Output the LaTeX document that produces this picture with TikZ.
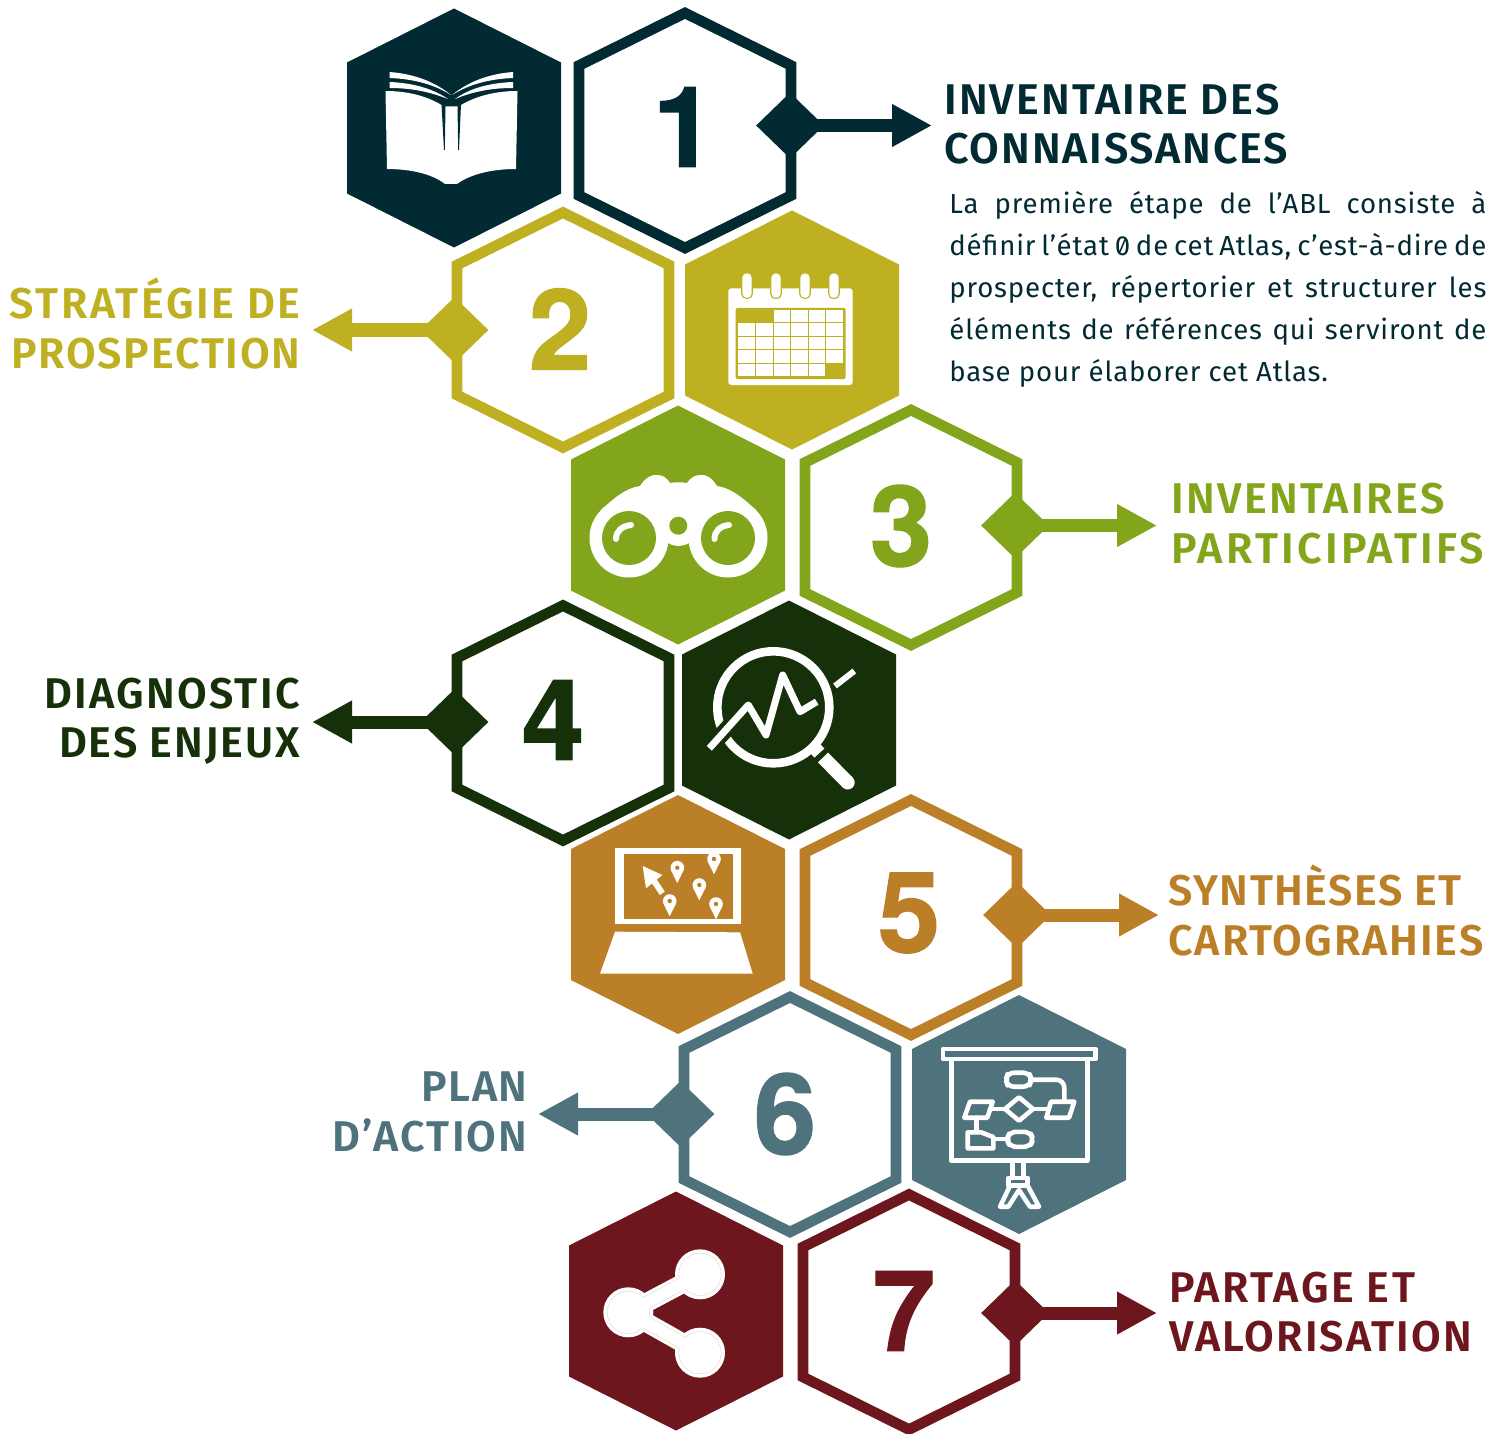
\documentclass[tikz,border=0pt]{standalone}
\usepackage{fontspec}
\usetikzlibrary{shapes.geometric,arrows.meta}
\setmainfont{Fira Sans}
\newfontfamily\titlefont{Fira Sans}[LetterSpace=3.5,UprightFont=*,BoldFont=* SemiBold]
\newfontfamily\bodyfont{Fira Sans}[LetterSpace=3,RawFeature={+ss01;+zero}]
\newfontfamily\digitfont{TeX Gyre Heros}[FakeBold=1.2]
\definecolor{cA}{HTML}{022A33}
\definecolor{cB}{HTML}{BFB022}
\definecolor{cC}{HTML}{82A51C}
\definecolor{cD}{HTML}{163009}
\definecolor{cE}{HTML}{BB7F27}
\definecolor{cF}{HTML}{4E737C}
\definecolor{cG}{HTML}{6E161E}
\newcommand\solidhex[3]{\fill[#3,shift={(#1,#2)}] (0,-119.5) -- (107,-65.5) -- (107,65.5) -- (0,119.5) -- (-107,65.5) -- (-107,-65.5) -- cycle;}
\newcommand\linehex[3]{\draw[#3,line width=5.3pt,miter limit=4,shift={(#1,#2)}] (0,-117.5) -- (106,-65) -- (106,65) -- (0,117.5) -- (-106,65) -- (-106,-65) -- cycle;}
\newcommand\bodyline[1]{\hbox to 268.5pt{#1}}
\newcommand\ls[2]{{\addfontfeature{LetterSpace=#1}#2}}
\newcommand\mappin[2]{\begin{scope}[shift={(#1,#2)}]
\fill[white] (0,0) circle[radius=6.8];
\fill[white] (0,15.3) -- (-6.3,2.5) -- (6.3,2.5) -- cycle;
\fill[cE] (0,0) circle[radius=2.2];
\end{scope}}
\tikzset{
  diam/.style={diamond,fill=#1,minimum width=34pt,minimum height=33pt,inner sep=0pt},
  conn/.style={draw=#1,line width=6.5pt,-{Triangle[length=20pt,width=20pt,fill=#1]}},
  digit/.style={inner sep=0pt,font=\digitfont\bfseries\fontsize{56}{56}\selectfont},
  title/.style={inner sep=0pt,font=\titlefont\bfseries\fontsize{21.5}{24.75}\selectfont},
  icon/.style={white,line width=2.3pt,line join=round,line cap=round},
}
\begin{document}
\begin{tikzpicture}[x=0.5pt,y=-0.5pt]
\fill[white] (0,0) rectangle (1502,1433);
\useasboundingbox (0,0) rectangle (1502,1433);
% hexagons
\solidhex{454}{128}{cA}   \linehex{685}{130.5}{cA}
\linehex{563}{330}{cB}    \solidhex{792}{330}{cB}
\solidhex{678}{525}{cC}   \linehex{911}{527.5}{cC}
\linehex{563}{723}{cD}    \solidhex{789}{720}{cD}
\solidhex{678}{914.5}{cE} \linehex{911}{917.5}{cE}
\linehex{790}{1114.5}{cF} \solidhex{1019}{1114.5}{cF}
\solidhex{676}{1311}{cG}  \linehex{909}{1312}{cG}
% digits
\node[digit,text=cA] (n1) at (684,127) {1};
\node[digit,text=cB] (n2) at (560,329) {2};
\node[digit,text=cC] (n3) at (901,526) {3};
\node[digit,text=cD] (n4) at (553,720) {4};
\node[digit,text=cE] (n5) at (909,913) {5};
\node[digit,text=cF] (n6) at (785,1114) {6};
\node[digit,text=cG] (n7) at (904,1311) {7};
% diamonds and connectors
\node[diam=cA] (d1) at (790,125.5) {};
\node[diam=cB] (d2) at (454.5,330) {};
\node[diam=cC] (d3) at (1015,525.5) {};
\node[diam=cD] (d4) at (454.5,722) {};
\node[diam=cE] (d5) at (1017,915) {};
\node[diam=cF] (d6) at (680.5,1114) {};
\node[diam=cG] (d7) at (1015,1313) {};
\coordinate (a1) at (932,125.5);
\coordinate (a2) at (312,330);
\coordinate (a3) at (1157,525.5);
\coordinate (a4) at (312,722);
\coordinate (a5) at (1159,915);
\coordinate (a6) at (538,1114);
\coordinate (a7) at (1157,1313);
\draw[conn=cA] (d1.center) -- (a1);
\draw[conn=cB] (d2.center) -- (a2);
\draw[conn=cC] (d3.center) -- (a3);
\draw[conn=cD] (d4.center) -- (a4);
\draw[conn=cE] (d5.center) -- (a5);
\draw[conn=cF] (d6.center) -- (a6);
\draw[conn=cG] (d7.center) -- (a7);
% titles
\node[title,text=cA,anchor=west,align=left] (t1) at (944,124) {\ls{4.9}{INVENTAIRE DES}\\\ls{4.3}{CONNAISSANCES}};
\node[title,text=cB,anchor=east,align=right] (t2) at (301,323.5) {\ls{6}{STRATÉGIE DE}\\\ls{4.2}{PROSPECTION}};
\node[title,text=cC,anchor=west,align=left] (t3) at (1171,523.5) {\ls{5.6}{INVENTAIRES}\\\ls{7.8}{PARTICIPATIFS}};
\node[title,text=cD,anchor=east,align=right] (t4) at (300,721.5) {\ls{5.3}{DIAGNOSTIC}\\\ls{4.5}{DES ENJEUX}};
\node[title,text=cE,anchor=west,align=left] (t5) at (1168,910.5) {\ls{3.5}{SYNTHÈSES ET}\\\ls{4.5}{CARTOGRAHIES}};
\node[title,text=cF,anchor=east,align=right] (t6) at (528,1112) {\ls{3.5}{PLAN}\\\ls{5.1}{D’ACTION}};
\node[title,text=cG,anchor=west,align=left] (t7) at (1169,1312) {\ls{5.8}{PARTAGE ET}\\\ls{5}{VALORISATION}};
% body text
\node[anchor=north west,inner sep=0pt,text=cA,font=\bodyfont\fontsize{13.8}{21}\selectfont] (body) at (949,190.5) {\vbox{\bodyline{La première étape de l’ABL consiste à}
\bodyline{définir l’état 0 de cet Atlas, c’est-à-dire de}
\bodyline{prospecter, répertorier et structurer les}
\bodyline{éléments de références qui serviront de}
\bodyline{base pour élaborer cet Atlas.\hfill}}};
% book icon
\fill[white] (385.5,91) .. controls (405,91) and (425,95) .. (441.5,105) -- (445.5,106.5) -- (457.5,106.5) -- (461,105) .. controls (478,95) and (498,91) .. (517.5,91) -- (516,169) .. controls (495,169) and (472,173) .. (457,184) -- (445,184) .. controls (431,173) and (408,169) .. (387,169) -- cycle;
\fill[cA] (441.5,104) -- (445.5,106.5) -- (444.8,150) -- (444,150) -- cycle;
\fill[cA] (461,104) -- (457.5,106.5) -- (458.2,150) -- (459,150) -- cycle;
\fill[white] (389.5,72) .. controls (415,74) and (435,82) .. (451,95) .. controls (435,85) and (415,79) .. (389.5,78) -- cycle;
\fill[white] (389.5,82) .. controls (412,83) and (432,88) .. (448,99) .. controls (430,92) and (412,88) .. (389.5,88) -- cycle;
\fill[white] (513,72) .. controls (488,74) and (468,82) .. (452,95) .. controls (468,85) and (488,79) .. (513,78) -- cycle;
\fill[white] (513,82) .. controls (490,83) and (470,88) .. (455,99) .. controls (472,92) and (490,88) .. (513,88) -- cycle;
% calendar icon
\fill[white,rounded corners=1.5pt] (728.3,288.3) rectangle (852.7,385);
\fill[cB,rounded corners=1pt] (735.7,308) rectangle (845.7,379);
\foreach \cx in {747,776,805,834}{
  \fill[cB,rounded corners=2.5pt] (\cx-5.8,273) rectangle (\cx+5.8,299);
  \fill[white,rounded corners=2.3pt] (\cx-4.7,273.3) rectangle (\cx+4.7,298);
}
\foreach \cl/\cr [count=\ci] in {738.3/755.1,756.1/772.7,773.7/790,791.1/807.7,808.8/825.3,826.3/842.7}{
  \foreach \rt/\rb [count=\rj] in {310.3/322.5,323.5/335.8,336.9/349.2,350.3/362.7,363.8/376}{
    \ifnum\numexpr\ci*10+\rj\relax=11\else\ifnum\numexpr\ci*10+\rj\relax=21\else\ifnum\numexpr\ci*10+\rj\relax=65\else
      \fill[white] (\cl,\rt) rectangle (\cr,\rb);
    \fi\fi\fi
  }
}
% binoculars icon
\fill[white] (629,538) circle[radius=39.5];
\fill[white] (728,538) circle[radius=39.5];
\fill[white] (601,510) .. controls (612,500) and (625,488) .. (640,486) .. controls (645,478) and (652,474) .. (658,475) .. controls (664,475) and (668,480) .. (670,483) .. controls (675,482) and (682,482) .. (687,483) .. controls (690,478) and (695,475) .. (700,475) .. controls (706,474) and (712,478) .. (717,486) .. controls (732,488) and (745,500) .. (756,510) -- (745,540) -- (689,543) .. controls (682,547) and (675,547) .. (668,543) -- (612,540) -- cycle;
\fill[cC] (629,538) circle[radius=27];
\fill[cC] (728,538) circle[radius=27];
\fill[cC] (678.3,525.7) circle[radius=9];
\draw[white,line width=3pt,line cap=round] (616,539) .. controls (616,531) and (622,526) .. (631,525);
\draw[white,line width=3pt,line cap=round] (714.5,539) .. controls (714.5,531) and (720,526) .. (729,525);
% magnifier icon
\draw[white,line width=4.3pt] (773.3,707.3) circle[radius=56];
\draw[cD,line width=8pt] (705,753) -- (748.3,705);
\draw[white,line width=3.5pt,line join=round] (709.3,748.3) -- (748.3,705) -- (766,735) -- (782.7,675) -- (800,711.7) -- (816.7,701.7);
\draw[white,line width=3pt] (835,686) -- (854.3,671);
\draw[white,line width=3.5pt] (812,755) -- (822,746);
\draw[white,line width=7pt] (823,757.5) -- (847.7,782.5);
\fill[white] (847.7,782.5) circle[radius=7];
% laptop icon
\fill[white] (615,848.3) rectangle (741,923.7);
\fill[cE] (623.7,853.7) rectangle (732.7,919);
\fill[white] (615,931.7) -- (740,932.3) -- (752.7,973.7) -- (600,973.7) -- cycle;
\mappin{677.3}{867.7}
\mappin{714}{859}
\mappin{699.3}{885}
\mappin{669.7}{901}
\mappin{716}{904}
\fill[white] (642.7,866) -- (662.3,875) -- (646,888.3) -- cycle;
\draw[white,line width=3pt] (652.3,878.3) -- (662.3,893.3);
% presentation icon
\begin{scope}[icon]
\draw (943,1049) rectangle (1095.3,1059);
\draw (951.3,1060) -- (951.3,1160.7) -- (1087.3,1160.7) -- (1087.3,1060);
\draw[rounded corners=3pt] (1005.7,1079.7) -- (1008,1072.7) -- (1029,1072.7) -- (1031.7,1079.7) -- (1029,1086.7) -- (1008,1086.7) -- cycle;
\draw[rounded corners=4pt] (1031.7,1079.7) -- (1064.3,1079.7) -- (1064.3,1101);
\draw (1051,1101.7) -- (1074.3,1101.7) -- (1069,1117.7) -- (1046.3,1117.7) -- cycle;
\draw (1019,1097.3) -- (1033,1109) -- (1019,1120.7) -- (1005,1109) -- cycle;
\draw (970,1101.7) -- (992.7,1101.7) -- (987.3,1117.7) -- (964.3,1117.7) -- cycle;
\draw (990,1109) -- (1005,1109);
\draw (1033,1109) -- (1048.3,1109);
\draw (976.7,1117.7) -- (976.7,1131.7);
\draw (967.7,1132.3) -- (981,1132.3) -- (993.3,1137) -- (993.3,1148.3) -- (967.7,1148.3) -- cycle;
\draw (993.3,1139) -- (1006.7,1139);
\draw[rounded corners=3pt] (1006.7,1139.3) -- (1010,1131.8) -- (1030,1131.8) -- (1033.3,1139.3) -- (1030,1146.8) -- (1010,1146.8) -- cycle;
\draw (1012.3,1160.7) -- (1012.3,1178);
\draw (1023.3,1160.7) -- (1023.3,1178);
\draw (1008.3,1178) rectangle (1027.7,1185.7);
\draw (1010,1185.7) -- (1000,1206.7) -- (1008.3,1206.7) -- (1019,1190) -- (1030,1206.7) -- (1039,1206.7) -- (1027.7,1185.7);
\end{scope}
% share icon
\foreach \rr/\ww/\cc in {25/9.5/white,21.5/6.5/cG!15,20.8/5.8/white}{
  \fill[\cc] (628.3,1312.3) circle[radius=\rr];
  \fill[\cc] (700,1274.3) circle[radius=\rr];
  \fill[\cc] (700,1352.7) circle[radius=\rr];
  \draw[\cc,line width=\ww pt] (700,1274.3) -- (628.3,1312.3) -- (700,1352.7);
}
\end{tikzpicture}
\end{document}
